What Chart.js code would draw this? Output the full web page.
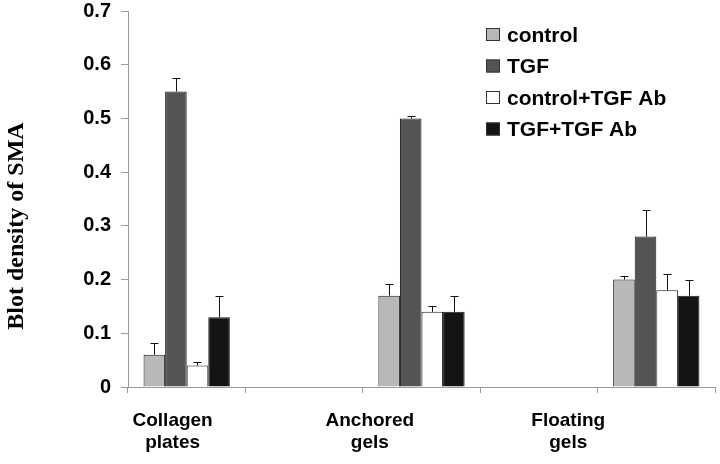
<!DOCTYPE html>
<html>
<head>
<meta charset="utf-8">
<script src="https://cdn.jsdelivr.net/npm/chart.js@4"></script>
<style>
  body { margin: 0; background: #fff; }
  canvas { display: block; }
</style>
</head>
<body>
<canvas id="smaChart" width="720" height="464"></canvas>
<script>
"use strict";

// DATA -----------------------
const categories = ["Collagen plates", "", "Anchored gels", "", "Floating gels"];
const seriesNames = ["control", "TGF", "control+TGF Ab", "TGF+TGF Ab"];
const yTitle = "Blot density of SMA";

const controlVals = [0.06, null, 0.17, null, 0.20];
const tgfVals = [0.55, null, 0.50, null, 0.28];
const controlAbVals = [0.04, null, 0.14, null, 0.18];
const tgfAbVals = [0.13, null, 0.14, null, 0.17];

const controlErr = [0.021, null, 0.022, null, 0.007];
const tgfErr = [0.026, null, 0.005, null, 0.05];
const controlAbErr = [0.006, null, 0.01, null, 0.03];
const tgfAbErr = [0.04, null, 0.03, null, 0.03];

const yTicks = [0, 0.1, 0.2, 0.3, 0.4, 0.5, 0.6, 0.7];

// STYLE -----------------------
const fills = ['#b8b8b8', '#545454', '#ffffff', '#141414'];
const sansBold = "'Liberation Sans', Arial, sans-serif";
const serifBold = "'Liberation Serif', 'Times New Roman', serif";
const axisGray = '#9a9a9a';
// where the category names sit on the 0..5 slot scale (they are not centred on the bars)
const labelSlots = [0.38, 2.06, 3.75];

// PLUGINS -----------------------
const errorBars = {
  id: 'errorBars',
  afterDatasetsDraw(chart) {
    const ctx = chart.ctx;
    const y = chart.scales.y;
    const errs = [controlErr, tgfErr, controlAbErr, tgfAbErr];
    ctx.save();
    ctx.strokeStyle = '#111';
    ctx.lineWidth = 1;
    chart.data.datasets.forEach(function(ds, i) {
      const meta = chart.getDatasetMeta(i);
      meta.data.forEach(function(bar, j) {
        const v = ds.data[j];
        const e = errs[i][j];
        if (v == null || e == null) return;
        const x = Math.round(bar.x) + 0.5;
        const top = Math.round(y.getPixelForValue(v + e)) + 0.5;
        ctx.beginPath();
        ctx.moveTo(x, bar.y);
        ctx.lineTo(x, top);
        ctx.moveTo(x - 4, top);
        ctx.lineTo(x + 4, top);
        ctx.stroke();
      });
    });
    ctx.restore();
  }
};

const boxLegend = {
  id: 'boxLegend',
  afterDraw(chart) {
    const ctx = chart.ctx;
    const area = chart.chartArea;
    const left = area.right - 229;
    ctx.save();
    ctx.font = 'bold 21px ' + sansBold;
    ctx.textBaseline = 'middle';
    chart.data.datasets.forEach(function(ds, i) {
      const cy = area.top + 24 + i * 31.5;
      ctx.fillStyle = ds.backgroundColor;
      ctx.fillRect(left, cy - 7, 14, 13);
      ctx.strokeStyle = '#333';
      ctx.lineWidth = 1;
      ctx.strokeRect(left + 0.5, cy - 6.5, 13, 12);
      ctx.fillStyle = '#000';
      ctx.fillText(ds.label, left + 21, cy + 1);
    });
    ctx.restore();
  }
};

// y title sits lower than the middle of the axis in the original
const sideTitle = {
  id: 'sideTitle',
  afterDraw(chart) {
    const ctx = chart.ctx;
    const area = chart.chartArea;
    ctx.save();
    ctx.translate(area.left - 111, area.top + 215);
    ctx.rotate(-Math.PI / 2);
    ctx.font = 'bold 24px ' + serifBold;
    ctx.fillStyle = '#000';
    ctx.textAlign = 'center';
    ctx.textBaseline = 'middle';
    ctx.fillText(yTitle, 0, 0);
    ctx.restore();
  }
};

// CHART -----------------------
const allVals = [controlVals, tgfVals, controlAbVals, tgfAbVals];

new Chart(document.getElementById('smaChart').getContext('2d'), {
  type: 'bar',
  data: {
    labels: categories,
    datasets: seriesNames.map(function(name, i) {
      return {
        label: name,
        data: allVals[i],
        backgroundColor: fills[i],
        borderColor: '#1a1a1a',
        borderWidth: 1,
        categoryPercentage: 0.735,
        barPercentage: 1.0
      };
    })
  },
  options: {
    responsive: false,
    animation: false,
    layout: { padding: { left: 0, right: 5, top: 0, bottom: 0 } },
    plugins: {
      legend: { display: false },
      tooltip: { enabled: false }
    },
    scales: {
      x: {
        type: 'category',
        grid: {
          display: true,
          drawOnChartArea: false,
          offset: true,
          tickLength: 6,
          color: axisGray
        },
        border: { display: true, color: axisGray },
        ticks: { display: false },
        afterFit(scale) { scale.height = 8; }
      },
      xl: {
        type: 'linear',
        position: 'bottom',
        offset: false,
        min: 0,
        max: 5,
        grid: { display: false },
        border: { display: false },
        afterBuildTicks(scale) {
          scale.ticks = labelSlots.map(function(v) { return { value: v }; });
        },
        ticks: {
          autoSkip: false,
          maxRotation: 0,
          padding: 7,
          color: '#000',
          font: { family: sansBold, size: 19, weight: 'bold', lineHeight: 1.15 },
          callback: function(value, index) {
            return categories.filter(function(c) { return c; })[index].split(' ');
          }
        },
        afterFit(scale) { scale.height = 69; }
      },
      y: {
        min: 0,
        max: 0.7,
        afterBuildTicks(scale) {
          scale.ticks = yTicks.map(function(v) { return { value: v }; });
        },
        grid: {
          display: true,
          drawOnChartArea: false,
          tickLength: 7,
          color: axisGray
        },
        border: { display: true, color: axisGray },
        ticks: {
          padding: 10,
          color: '#000',
          font: { family: sansBold, size: 20, weight: 'bold' },
          callback: function(value) { return value === 0 ? '0' : value.toFixed(1); }
        },
        afterFit(scale) {
          scale.width = 128;
          scale.paddingTop = 11;
          scale.paddingBottom = 0;
        }
      }
    }
  },
  plugins: [errorBars, boxLegend, sideTitle]
});
</script>
</body>
</html>
